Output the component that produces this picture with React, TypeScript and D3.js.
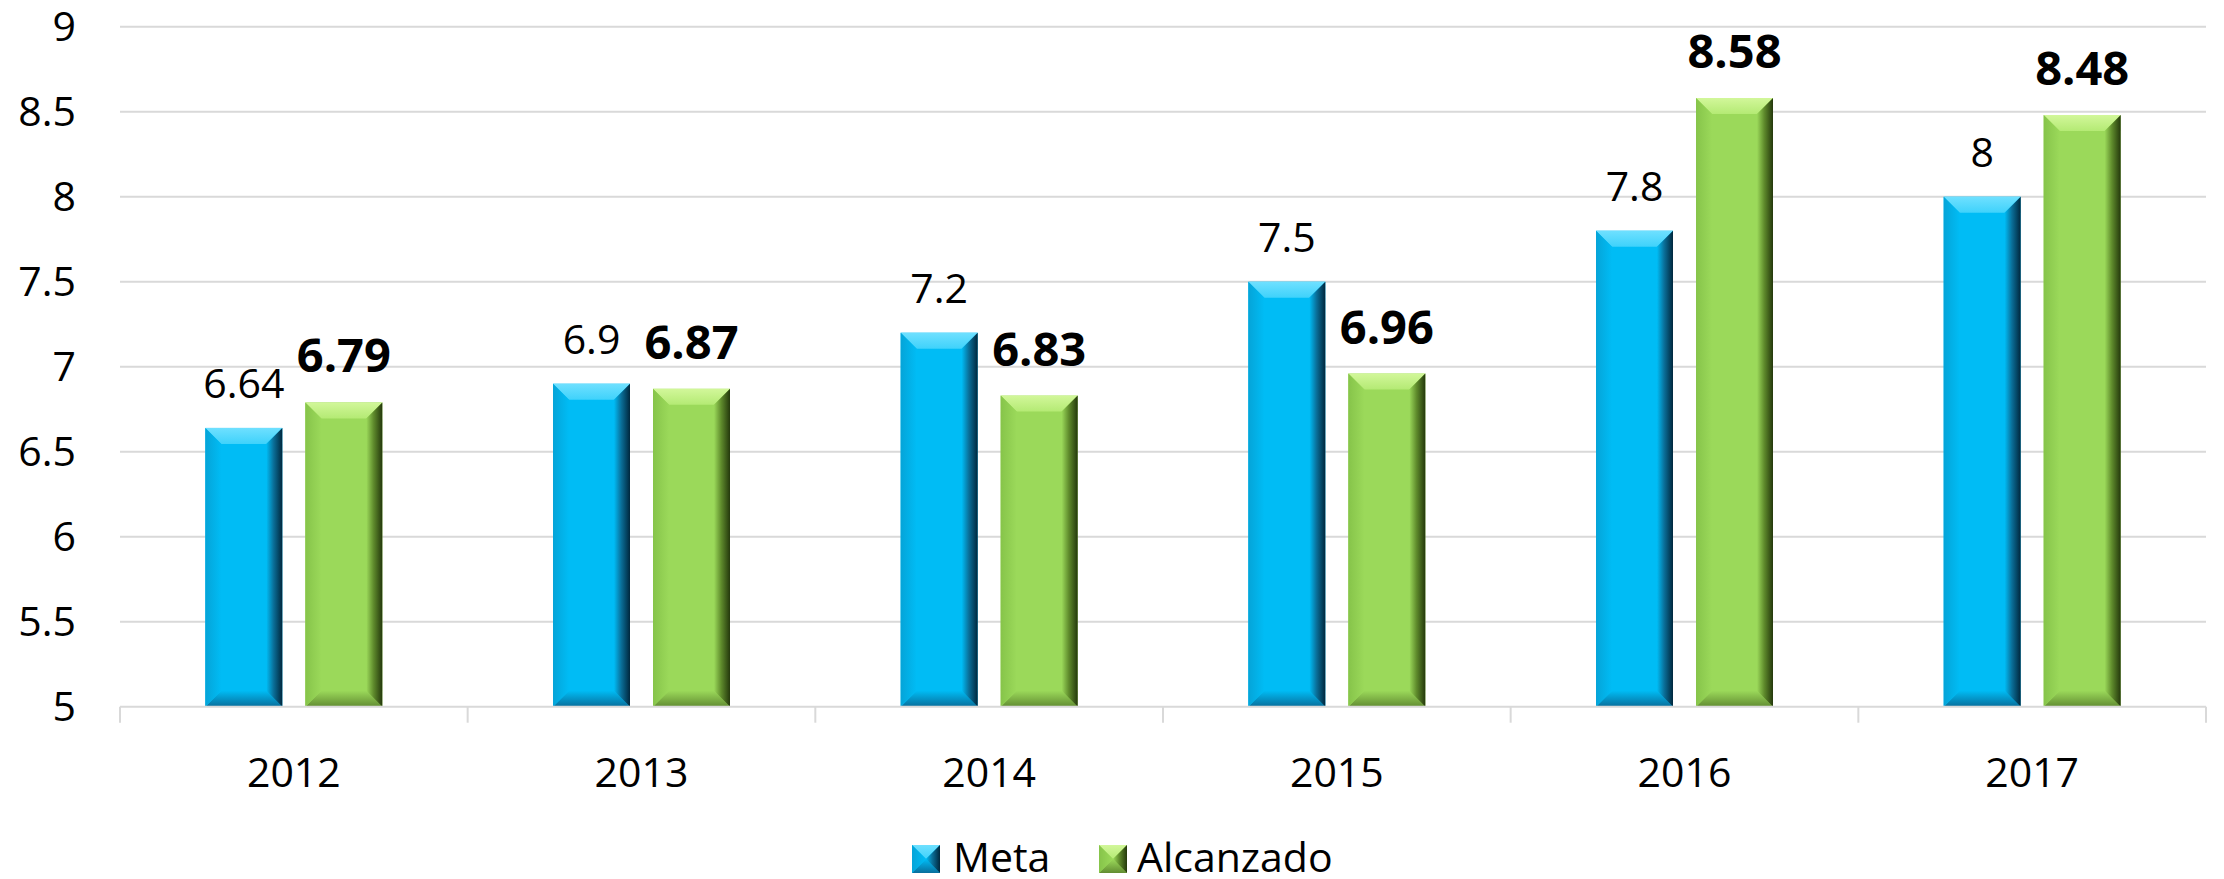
import React from "react";
import * as d3 from "d3";

const years = ["2012", "2013", "2014", "2015", "2016", "2017"];
const seriesNames = ["Meta", "Alcanzado"];
const metaValues = [6.64, 6.9, 7.2, 7.5, 7.8, 8];
const alcanzadoValues = [6.79, 6.87, 6.83, 6.96, 8.58, 8.48];
const metaLabels = ["6.64", "6.9", "7.2", "7.5", "7.8", "8"];
const alcanzadoLabels = ["6.79", "6.87", "6.83", "6.96", "8.58", "8.48"];
const yTicks = [5, 5.5, 6, 6.5, 7, 7.5, 8, 8.5, 9];
const yTickLabels = ["5", "5.5", "6", "6.5", "7", "7.5", "8", "8.5", "9"];

const W = 2224;
const H = 879;
const FONT = "'Open Sans', 'Noto Sans', sans-serif";

type Pal = { base: string; light: string; lighter: string; dark: string; darkest: string; bottom: string; left: string };
const palettes: Record<string, Pal> = {
  Meta: {
    base: "#00bcf5",
    light: "#6fe0ff",
    lighter: "#3fd2fb",
    dark: "#0a6f99",
    darkest: "#00273d",
    bottom: "#086f9c",
    left: "#05a4d8",
  },
  Alcanzado: {
    base: "#9bd95a",
    light: "#d2f79a",
    lighter: "#b4ea74",
    dark: "#5f8b2c",
    darkest: "#24380c",
    bottom: "#628d32",
    left: "#86c44a",
  },
};

function Gradients({ id, p }: { id: string; p: Pal }) {
  return (
    <>
      <linearGradient id={`${id}-top`} x1="0" y1="0" x2="0" y2="1">
        <stop offset="0" stopColor={p.light} />
        <stop offset="1" stopColor={p.lighter} />
      </linearGradient>
      <linearGradient id={`${id}-right`} x1="0" y1="0" x2="1" y2="0">
        <stop offset="0" stopColor={p.base} />
        <stop offset="0.45" stopColor={p.dark} />
        <stop offset="1" stopColor={p.darkest} />
      </linearGradient>
      <linearGradient id={`${id}-bottom`} x1="0" y1="0" x2="0" y2="1">
        <stop offset="0" stopColor={p.base} />
        <stop offset="1" stopColor={p.bottom} />
      </linearGradient>
      <linearGradient id={`${id}-left`} x1="0" y1="0" x2="1" y2="0">
        <stop offset="0" stopColor={p.left} />
        <stop offset="1" stopColor={p.base} />
      </linearGradient>
    </>
  );
}

function BevelRect({ x, y, w, h, b, id, p }: { x: number; y: number; w: number; h: number; b: number; id: string; p: Pal }) {
  const bb = Math.min(b, w / 2, h / 2);
  const pts = (arr: number[][]) => arr.map((q) => q.join(",")).join(" ");
  return (
    <g>
      <rect x={x} y={y} width={w} height={h} fill={p.base} />
      <polygon points={pts([[x, y], [x + w, y], [x + w - bb, y + bb], [x + bb, y + bb]])} fill={`url(#${id}-top)`} />
      <polygon points={pts([[x, y + h], [x + w, y + h], [x + w - bb, y + h - bb], [x + bb, y + h - bb]])} fill={`url(#${id}-bottom)`} />
      <polygon points={pts([[x, y], [x + bb, y + bb], [x + bb, y + h - bb], [x, y + h]])} fill={`url(#${id}-left)`} />
      <polygon points={pts([[x + w, y], [x + w, y + h], [x + w - bb, y + h - bb], [x + w - bb, y + bb]])} fill={`url(#${id}-right)`} />
    </g>
  );
}

export default function App() {
  const plotL = 120;
  const plotR = 2206;
  const x0 = d3.scaleBand<string>().domain(years).range([plotL, plotR]).padding(0);
  const groupW = 177;
  const x1 = d3
    .scaleBand<string>()
    .domain(seriesNames)
    .range([(x0.bandwidth() - groupW) / 2, (x0.bandwidth() + groupW) / 2])
    .paddingInner(0.23);
  const y = d3.scaleLinear().domain([5, 9]).range([706.7, 26.7]);

  const data = [
    { name: "Meta", values: metaValues, labels: metaLabels, bold: false },
    { name: "Alcanzado", values: alcanzadoValues, labels: alcanzadoLabels, bold: true },
  ];

  const boundaries = years.map((yr) => x0(yr) as number).concat([plotR]);

  return (
    <svg
      width={W}
      height={H}
      viewBox={`0 0 ${W} ${H}`}
      style={{ position: "absolute", left: 0, top: 0, display: "block", background: "#fff" }}
      fontFamily={FONT}
    >
      <defs>
        {seriesNames.map((n) => (
          <Gradients key={n} id={`g-${n}`} p={palettes[n]} />
        ))}
      </defs>
      <rect x={0} y={0} width={W} height={H} fill="#fff" />
      {yTicks.map((t) =>
        t === 5 ? null : (
          <line key={t} x1={plotL} x2={plotR} y1={y(t)} y2={y(t)} stroke="#d9d9d9" strokeWidth={2} />
        )
      )}
      {yTicks.map((t, i) => (
        <text key={`yl${t}`} x={76} y={y(t)} dy="0.36em" textAnchor="end" fontSize={41} fill="#000">
          {yTickLabels[i]}
        </text>
      ))}
      {data.map((s) =>
        years.map((yr, i) => {
          const bx = (x0(yr) as number) + (x1(s.name) as number);
          const bw = x1.bandwidth();
          const by = y(s.values[i]);
          const bh = y(5) - by;
          return (
            <BevelRect key={`${s.name}-${yr}`} x={bx} y={by} w={bw} h={bh} b={16} id={`g-${s.name}`} p={palettes[s.name]} />
          );
        })
      )}
      <line x1={plotL} x2={plotR} y1={y(5)} y2={y(5)} stroke="#d9d9d9" strokeWidth={2} />
      {boundaries.map((bx, i) => (
        <line key={`tk${i}`} x1={bx} x2={bx} y1={y(5)} y2={y(5) + 16} stroke="#d9d9d9" strokeWidth={2} />
      ))}
      {years.map((yr) => (
        <text key={`xl${yr}`} x={(x0(yr) as number) + x0.bandwidth() / 2} y={787} textAnchor="middle" fontSize={41} fill="#000">
          {yr}
        </text>
      ))}
      {data.map((s) =>
        years.map((yr, i) => {
          const cx = (x0(yr) as number) + (x1(s.name) as number) + x1.bandwidth() / 2;
          return (
            <text
              key={`dl-${s.name}-${yr}`}
              x={cx}
              y={y(s.values[i]) - 30}
              textAnchor="middle"
              fontSize={s.bold ? 47 : 41}
              fontWeight={s.bold ? 700 : 400}
              fill="#000"
            >
              {s.labels[i]}
            </text>
          );
        })
      )}
      {(() => {
        const items = [
          { name: "Meta", mx: 912, tx: 953 },
          { name: "Alcanzado", mx: 1099, tx: 1137 },
        ];
        const sz = 28;
        const my = 845;
        return items.map((it) => (
          <g key={`lg-${it.name}`}>
            <BevelRect x={it.mx} y={my} w={sz} h={sz} b={sz / 2} id={`g-${it.name}`} p={palettes[it.name]} />
            <text x={it.tx} y={872} fontSize={41} fill="#000">
              {it.name}
            </text>
          </g>
        ));
      })()}
    </svg>
  );
}
